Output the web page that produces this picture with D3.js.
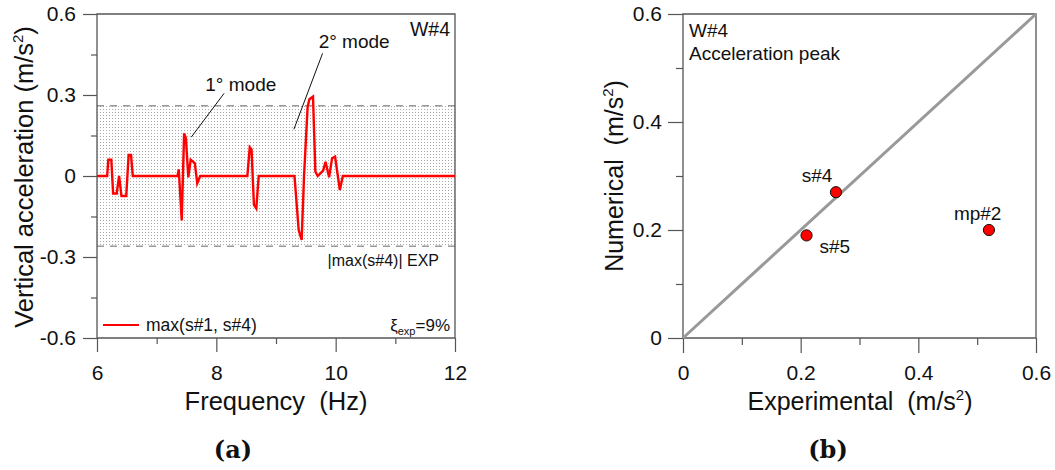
<!DOCTYPE html>
<html>
<head>
<meta charset="utf-8">
<script src="https://cdn.jsdelivr.net/npm/d3@7"></script>
<style>
  body { margin: 0; background: #fff; }
  svg { display: block; font-family: "Liberation Sans", Arial, sans-serif; }
</style>
</head>
<body>
<div class="chart"></div>
<script>
// ---- data (a): envelope max(s#1, s#4), frequency in Hz, acceleration in m/s^2
const freq = [6.0, 6.17, 6.19, 6.24, 6.27, 6.33, 6.37, 6.41, 6.49, 6.53, 6.57, 6.6,
  7.35, 7.37, 7.42, 7.46, 7.49, 7.53, 7.57, 7.6, 7.64, 7.68, 7.73,
  8.52, 8.56, 8.59, 8.63, 8.67, 8.71,
  9.31, 9.38, 9.43, 9.47, 9.53, 9.56, 9.62, 9.66, 9.7, 9.79, 9.83, 9.89, 9.94, 9.99, 10.07, 10.12, 12.0];
const accel = [0, 0, 0.06, 0.06, -0.065, -0.065, 0.0, -0.074, -0.074, 0.078, 0.078, 0,
  0, 0.025, -0.165, 0.158, 0.14, -0.005, 0.06, 0.055, 0.047, -0.027, 0,
  0, 0.106, 0.098, -0.107, -0.12, 0,
  0, -0.2, -0.237, 0, 0.257, 0.284, 0.294, 0.016, 0, 0.02, 0.053, -0.005, 0.066, 0.072, -0.052, 0, 0];
const expLimit = 0.26; // |max(s#4)| EXP

const xTicksA = [6, 8, 10, 12];
const xMinorA = [7, 9, 11];
const yTicksA = [-0.6, -0.3, 0, 0.3, 0.6];
const yMinorA = [-0.45, -0.15, 0.15, 0.45];

// ---- data (b): acceleration peak, experimental vs numerical
const pointNames = ["s#4", "s#5", "mp#2"];
const experimental = [0.26, 0.21, 0.52];
const numerical = [0.27, 0.19, 0.20];
const ticksB = [0, 0.2, 0.4, 0.6];
const minorB = [0.1, 0.3, 0.5];

const svg = d3.select(".chart").append("svg").attr("width", 1055).attr("height", 470);

const axisColor = "#555";
const fmt = d => (d === 0 ? "0" : d3.format(".1f")(d).replace("−", "-"));

// dotted fill pattern
svg.append("defs").append("pattern")
  .attr("id", "dots")
  .attr("width", 3).attr("height", 3)
  .attr("patternUnits", "userSpaceOnUse")
  .append("rect").attr("x", 1).attr("y", 1).attr("width", 1).attr("height", 1).attr("fill", "#a8a8a8");

function styleAxis(g, size) {
  g.select(".domain").remove();
  g.selectAll("line").attr("stroke", axisColor).attr("stroke-width", 1.2);
  g.selectAll("text").attr("fill", "#111").style("font-size", size + "px")
    .style("font-family", "'Liberation Sans', Arial, sans-serif");
}

// ================= (a) =================
const xA = d3.scaleLinear().domain([6, 12]).range([97, 455]);
const yA = d3.scaleLinear().domain([-0.6, 0.6]).range([338, 14]);

// shaded band of the experimental max
svg.append("rect")
  .attr("x", xA(6)).attr("width", xA(12) - xA(6))
  .attr("y", yA(expLimit)).attr("height", yA(-expLimit) - yA(expLimit))
  .attr("fill", "url(#dots)");

[expLimit, -expLimit].forEach(v => {
  svg.append("line")
    .attr("x1", xA(6)).attr("x2", xA(12))
    .attr("y1", yA(v)).attr("y2", yA(v))
    .attr("stroke", "#999").attr("stroke-width", 1.5)
    .attr("stroke-dasharray", "7,6");
});

// axes
svg.append("g").attr("transform", `translate(0,${yA(-0.6)})`)
  .call(d3.axisBottom(xA).tickValues(xMinorA).tickSize(6).tickFormat(""))
  .call(g => styleAxis(g, 21));
svg.append("g").attr("transform", `translate(0,${yA(-0.6)})`)
  .call(d3.axisBottom(xA).tickValues(xTicksA).tickSize(14).tickPadding(13).tickFormat(d3.format("d")))
  .call(g => styleAxis(g, 21));
svg.append("g").attr("transform", `translate(${xA(6)},0)`)
  .call(d3.axisLeft(yA).tickValues(yMinorA).tickSize(6).tickFormat(""))
  .call(g => styleAxis(g, 21));
svg.append("g").attr("transform", `translate(${xA(6)},0)`)
  .call(d3.axisLeft(yA).tickValues(yTicksA).tickSize(14).tickPadding(7).tickFormat(fmt))
  .call(g => styleAxis(g, 21));

// frame
svg.append("path")
  .attr("d", `M${xA(6)},${yA(-0.6)}V${yA(0.6)}H${xA(12)}V${yA(-0.6)}H${xA(6)}`)
  .attr("fill", "none").attr("stroke", axisColor).attr("stroke-width", 1.3);

// envelope line
const lineA = d3.line().x((d, i) => xA(freq[i])).y(d => yA(d));
svg.append("path")
  .datum(accel)
  .attr("d", lineA)
  .attr("fill", "none")
  .attr("stroke", "#ff0000")
  .attr("stroke-width", 2.4)
  .attr("stroke-linejoin", "miter");

// mode annotations
const modes = [
  { label: "1° mode", tx: 8.41, ty: 0.315, from: [8.13, 0.306], to: [7.58, 0.144] },
  { label: "2° mode", tx: 10.31, ty: 0.475, from: [9.78, 0.454], to: [9.30, 0.173] }
];
modes.forEach(m => {
  svg.append("text").text(m.label)
    .attr("x", xA(m.tx)).attr("y", yA(m.ty))
    .attr("text-anchor", "middle")
    .style("font-size", "19px").attr("fill", "#111");
  svg.append("line")
    .attr("x1", xA(m.from[0])).attr("y1", yA(m.from[1]))
    .attr("x2", xA(m.to[0])).attr("y2", yA(m.to[1]))
    .attr("stroke", "#111").attr("stroke-width", 1);
});

svg.append("text").text("W#4")
  .attr("x", 450).attr("y", 36).attr("text-anchor", "end")
  .style("font-size", "19.5px").attr("fill", "#111");

svg.append("text").text("|max(s#4)| EXP")
  .attr("x", 439).attr("y", 266).attr("text-anchor", "end")
  .style("font-size", "16px").attr("fill", "#111");

// legend
svg.append("line")
  .attr("x1", 103).attr("x2", 139).attr("y1", 325).attr("y2", 325)
  .attr("stroke", "#ff0000").attr("stroke-width", 2);
svg.append("text").text("max(s#1, s#4)")
  .attr("x", 146).attr("y", 331)
  .style("font-size", "17.5px").attr("fill", "#111");

const xi = svg.append("text")
  .attr("x", 450).attr("y", 331).attr("text-anchor", "end")
  .style("font-size", "17px").attr("fill", "#111");
xi.append("tspan").text("ξ");
xi.append("tspan").text("exp").style("font-size", "11px").attr("dy", 4);
xi.append("tspan").text("=9%").attr("dy", -4);

// axis titles
const yTitleA = svg.append("text")
  .attr("transform", "translate(33,177) rotate(-90)")
  .attr("text-anchor", "middle")
  .style("font-size", "25.5px").attr("fill", "#111");
yTitleA.append("tspan").text("Vertical acceleration (m/s");
yTitleA.append("tspan").text("2").style("font-size", "15px").attr("dy", -10);
yTitleA.append("tspan").text(")").attr("dy", 10);

svg.append("text").text("Frequency  (Hz)")
  .attr("x", 276).attr("y", 410).attr("text-anchor", "middle")
  .attr("xml:space", "preserve").style("white-space", "pre")
  .style("font-size", "25.5px").attr("fill", "#111");

svg.append("text").text("(a)")
  .attr("x", 233).attr("y", 458).attr("text-anchor", "middle")
  .style("font-family", "'DejaVu Serif', serif").style("font-weight", "bold")
  .style("font-size", "24px").attr("fill", "#111");

// ================= (b) =================
const xB = d3.scaleLinear().domain([0, 0.6]).range([683, 1036]);
const yB = d3.scaleLinear().domain([0, 0.6]).range([338, 14]);

svg.append("g").attr("transform", `translate(0,${yB(0)})`)
  .call(d3.axisBottom(xB).tickValues(minorB).tickSize(7).tickFormat(""))
  .call(g => styleAxis(g, 21));
svg.append("g").attr("transform", `translate(0,${yB(0)})`)
  .call(d3.axisBottom(xB).tickValues(ticksB).tickSize(15).tickPadding(12).tickFormat(fmt))
  .call(g => styleAxis(g, 21));
svg.append("g").attr("transform", `translate(${xB(0)},0)`)
  .call(d3.axisLeft(yB).tickValues(minorB).tickSize(7).tickFormat(""))
  .call(g => styleAxis(g, 21));
svg.append("g").attr("transform", `translate(${xB(0)},0)`)
  .call(d3.axisLeft(yB).tickValues(ticksB).tickSize(15).tickPadding(6).tickFormat(fmt))
  .call(g => styleAxis(g, 21));

svg.append("path")
  .attr("d", `M${xB(0)},${yB(0)}V${yB(0.6)}H${xB(0.6)}V${yB(0)}H${xB(0)}`)
  .attr("fill", "none").attr("stroke", axisColor).attr("stroke-width", 1.3);

// 1:1 line
svg.append("line")
  .attr("x1", xB(0)).attr("y1", yB(0))
  .attr("x2", xB(0.6)).attr("y2", yB(0.6))
  .attr("stroke", "#999").attr("stroke-width", 3);

svg.selectAll(".pt").data(pointNames).join("circle")
  .attr("class", "pt")
  .attr("cx", (d, i) => xB(experimental[i]))
  .attr("cy", (d, i) => yB(numerical[i]))
  .attr("r", 5.6)
  .attr("fill", "#ff0000").attr("stroke", "#111").attr("stroke-width", 1);

const labelOffsets = [
  { dx: -19, dy: -10.5, anchor: "middle" },
  { dx: 13, dy: 18, anchor: "start" },
  { dx: 12.5, dy: -10, anchor: "end" }
];
svg.selectAll(".pl").data(pointNames).join("text")
  .attr("class", "pl")
  .text(d => d)
  .attr("x", (d, i) => xB(experimental[i]) + labelOffsets[i].dx)
  .attr("y", (d, i) => yB(numerical[i]) + labelOffsets[i].dy)
  .attr("text-anchor", (d, i) => labelOffsets[i].anchor)
  .style("font-size", "19px").attr("fill", "#111");

svg.append("text").text("W#4")
  .attr("x", 689).attr("y", 36.5)
  .style("font-size", "19px").attr("fill", "#111");
svg.append("text").text("Acceleration peak")
  .attr("x", 689).attr("y", 60)
  .style("font-size", "19px").attr("fill", "#111");

const yTitleB = svg.append("text")
  .attr("transform", "translate(623,176) rotate(-90)")
  .attr("text-anchor", "middle")
  .attr("xml:space", "preserve").style("white-space", "pre")
  .style("font-size", "25px").attr("fill", "#111");
yTitleB.append("tspan").text("Numerical  (m/s");
yTitleB.append("tspan").text("2").style("font-size", "15px").attr("dy", -10);
yTitleB.append("tspan").text(")").attr("dy", 10);

const xTitleB = svg.append("text")
  .attr("x", 860).attr("y", 410).attr("text-anchor", "middle")
  .attr("xml:space", "preserve").style("white-space", "pre")
  .style("font-size", "25px").attr("fill", "#111");
xTitleB.append("tspan").text("Experimental  (m/s");
xTitleB.append("tspan").text("2").style("font-size", "15px").attr("dy", -10);
xTitleB.append("tspan").text(")").attr("dy", 10);

svg.append("text").text("(b)")
  .attr("x", 828).attr("y", 458).attr("text-anchor", "middle")
  .style("font-family", "'DejaVu Serif', serif").style("font-weight", "bold")
  .style("font-size", "24px").attr("fill", "#111");
</script>
</body>
</html>
